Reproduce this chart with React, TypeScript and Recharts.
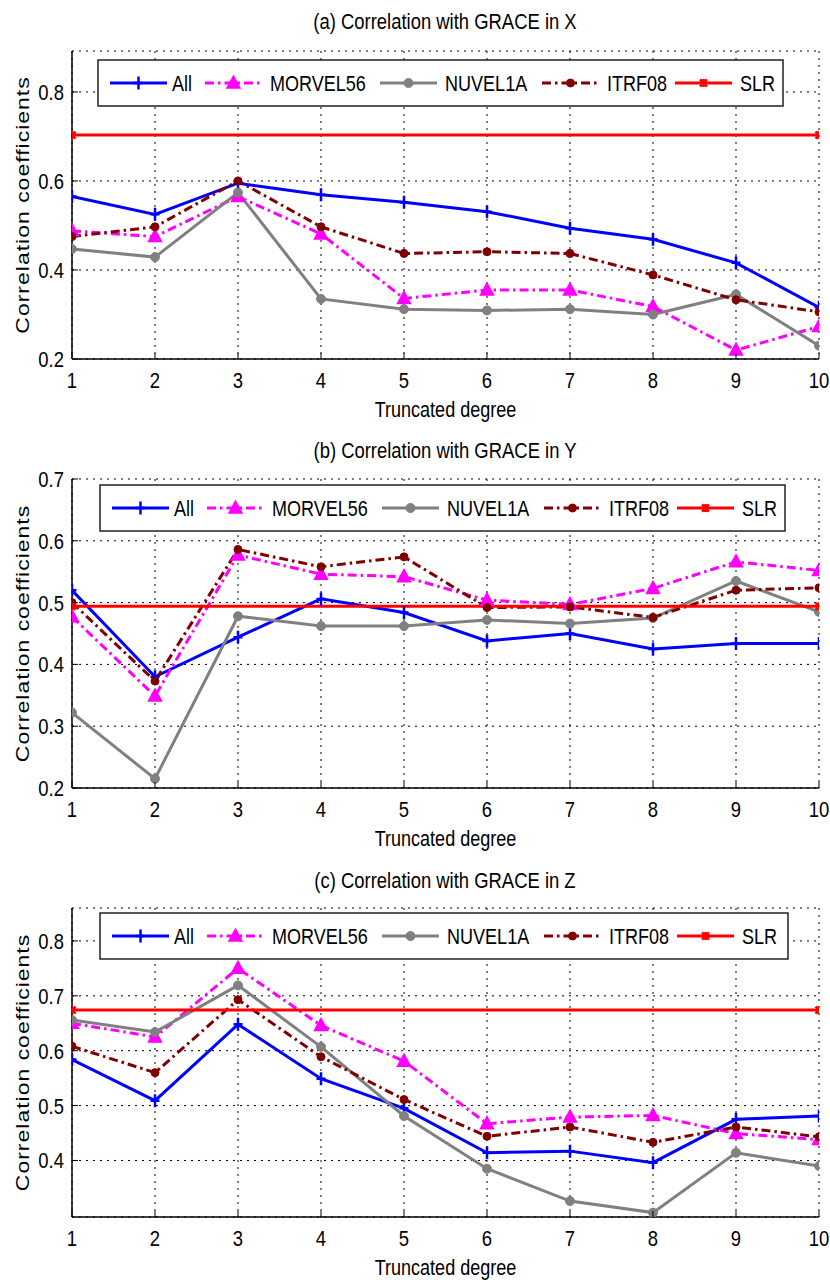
import React from 'react';
import { LineChart, Line, XAxis, YAxis, CartesianGrid, Label } from 'recharts';

const degrees = [1, 2, 3, 4, 5, 6, 7, 8, 9, 10];

// Panel (a) X
const allX = [0.565, 0.525, 0.595, 0.569, 0.552, 0.531, 0.494, 0.469, 0.416, 0.316];
const morvelX = [0.488, 0.475, 0.565, 0.481, 0.336, 0.355, 0.355, 0.318, 0.220, 0.273];
const nuvelX = [0.447, 0.429, 0.574, 0.335, 0.312, 0.309, 0.312, 0.300, 0.345, 0.230];
const itrfX = [0.475, 0.497, 0.600, 0.497, 0.437, 0.441, 0.437, 0.389, 0.333, 0.306];
const slrX = 0.703;

// Panel (b) Y
const allY = [0.520, 0.380, 0.444, 0.506, 0.484, 0.438, 0.450, 0.425, 0.434, 0.434];
const morvelY = [0.477, 0.349, 0.577, 0.546, 0.542, 0.504, 0.497, 0.523, 0.566, 0.552];
const nuvelY = [0.322, 0.215, 0.478, 0.462, 0.462, 0.472, 0.466, 0.475, 0.535, 0.485];
const itrfY = [0.500, 0.373, 0.586, 0.558, 0.574, 0.492, 0.493, 0.476, 0.520, 0.524];
const slrY = 0.494;

// Panel (c) Z
const allZ = [0.584, 0.509, 0.648, 0.549, 0.495, 0.414, 0.417, 0.396, 0.475, 0.481];
const morvelZ = [0.650, 0.625, 0.750, 0.646, 0.581, 0.467, 0.479, 0.482, 0.449, 0.438];
const nuvelZ = [0.656, 0.634, 0.719, 0.607, 0.481, 0.385, 0.326, 0.305, 0.414, 0.390];
const itrfZ = [0.608, 0.560, 0.693, 0.589, 0.511, 0.444, 0.461, 0.433, 0.461, 0.443];
const slrZ = 0.674;

const titles = ['(a) Correlation with GRACE in X', '(b) Correlation with GRACE in Y', '(c) Correlation with GRACE in Z'];
const seriesNames = ['All', 'MORVEL56', 'NUVEL1A', 'ITRF08', 'SLR'];
const ticksA = [0.2, 0.4, 0.6, 0.8];
const ticksB = [0.2, 0.3, 0.4, 0.5, 0.6, 0.7];
const ticksC = [0.4, 0.5, 0.6, 0.7, 0.8];

const FONT = '"Liberation Sans", Arial, sans-serif';
const SX = 0.82; // horizontal squeeze of the original figure's text

const COLORS = { all: '#0000ff', morvel: '#ff00ff', nuvel: '#808080', itrf: '#800000', slr: '#ff0000' };
const DASH = '9 4 2.5 4';

function buildData(all: number[], mor: number[], nuv: number[], itr: number[], slr: number) {
  return degrees.map((d, i) => ({
    deg: d,
    all: all[i],
    morvel: mor[i],
    nuvel: nuv[i],
    itrf: itr[i],
    slr: i === 0 || i === degrees.length - 1 ? slr : null,
  }));
}

const PlusMark = ({ cx, cy, color }: any) => (
  <path d={`M${cx - 4.5},${cy}h9M${cx},${cy - 6.5}v13`} stroke={color} strokeWidth={2.5} fill="none" />
);
const TriMark = ({ cx, cy, color }: any) => (
  <polygon points={`${cx},${cy - 7} ${cx - 6.5},${cy + 5} ${cx + 6.5},${cy + 5}`} fill={color} stroke={color} strokeWidth={1.5} />
);
const CircleMark = ({ cx, cy, color, r }: any) => <circle cx={cx} cy={cy} r={r} fill={color} stroke={color} />;
const XMark = ({ cx, cy, color }: any) => (
  <path d={`M${cx - 3.5},${cy - 3.5}L${cx + 3.5},${cy + 3.5}M${cx + 3.5},${cy - 3.5}L${cx - 3.5},${cy + 3.5}M${cx},${cy - 4}v8`} stroke={color} strokeWidth={2.5} fill="none" />
);

function makeDot(kind: string) {
  return (props: any) => {
    const { cx, cy, index } = props;
    const k = `${kind}-${index}`;
    if (cx == null || cy == null || props.value == null) return <g key={k} />;
    let el: any = null;
    if (kind === 'all') el = <PlusMark cx={cx} cy={cy} color={COLORS.all} />;
    else if (kind === 'morvel') el = <TriMark cx={cx} cy={cy} color={COLORS.morvel} />;
    else if (kind === 'nuvel') el = <CircleMark cx={cx} cy={cy} color={COLORS.nuvel} r={4.5} />;
    else if (kind === 'itrf') el = <CircleMark cx={cx} cy={cy} color={COLORS.itrf} r={4} />;
    else el = <XMark cx={cx} cy={cy} color={COLORS.slr} />;
    return <g key={k}>{el}</g>;
  };
}

const legendSpecs = [
  { key: 'all', name: seriesNames[0], color: COLORS.all, dash: undefined, sx: 12, tx: 74 },
  { key: 'morvel', name: seriesNames[1], color: COLORS.morvel, dash: DASH, sx: 107, tx: 172 },
  { key: 'nuvel', name: seriesNames[2], color: COLORS.nuvel, dash: undefined, sx: 282, tx: 347 },
  { key: 'itrf', name: seriesNames[3], color: COLORS.itrf, dash: DASH, sx: 444, tx: 509 },
  { key: 'slr', name: seriesNames[4], color: COLORS.slr, dash: undefined, sx: 577, tx: 642 },
];

function LegendBox({ left, top, width }: any) {
  const h = 46;
  return (
    <svg width={830} height={top + h + 4} style={{ position: 'absolute', left: 0, top: 0, pointerEvents: 'none' }}>
      <g transform={`translate(${left},${top})`}>
        <rect x={0} y={0} width={width} height={h} fill="#fff" stroke="#222" strokeWidth={1.5} />
        {legendSpecs.map((s) => {
          const Dot = makeDot(s.key);
          return (
            <g key={s.key}>
              <line x1={s.sx} y1={h / 2} x2={s.sx + 57} y2={h / 2} stroke={s.color} strokeWidth={3} strokeDasharray={s.dash} />
              {Dot({ cx: s.sx + 28.5, cy: h / 2, index: 0, value: 1 })}
              <text
                transform={`translate(${s.tx},${h / 2 + 8}) scale(${SX},1)`}
                style={{ fontFamily: FONT, fontSize: 22 }}
                fill="#000"
              >
                {s.name}
              </text>
            </g>
          );
        })}
      </g>
    </svg>
  );
}

const BottomTick = (props: any) => {
  const { x, y, payload } = props;
  return (
    <g>
      <line x1={x} y1={y - 13} x2={x} y2={y - 19} stroke="#000" strokeWidth={1} />
      <text transform={`translate(${x},${y}) scale(${SX},1)`} textAnchor="middle" dy="0.71em" style={{ fontFamily: FONT, fontSize: 22.5 }} fill="#000">
        {payload.value}
      </text>
    </g>
  );
};
const LeftTick = (props: any) => {
  const { x, y, payload } = props;
  return (
    <g>
      <line x1={x + 8} y1={y} x2={x + 14} y2={y} stroke="#000" strokeWidth={1} />
      <text transform={`translate(${x},${y}) scale(${SX},1)`} textAnchor="end" dy="0.355em" style={{ fontFamily: FONT, fontSize: 22.5 }} fill="#000">
        {Number(payload.value).toFixed(1)}
      </text>
    </g>
  );
};
const TopTick = (props: any) => {
  const { x, y } = props;
  return <line x1={x} y1={y + 8} x2={x} y2={y + 14} stroke="#000" strokeWidth={1} />;
};
const RightTick = (props: any) => {
  const { x, y } = props;
  return <line x1={x - 8} y1={y} x2={x - 14} y2={y} stroke="#000" strokeWidth={1} />;
};

function Panel({ data, domain, ticks, legendTop, legendLeft, legendWidth, height, marginTop, marginBottom }: any) {
  return (
    <div style={{ position: 'relative', width: 830, height }}>
      <LineChart width={830} height={height} data={data} margin={{ top: marginTop, right: 11, bottom: marginBottom, left: 0 }}>
        <CartesianGrid stroke="#000" strokeWidth={1} strokeDasharray="2 5" />
        <XAxis
          dataKey="deg"
          type="number"
          domain={[1, 10]}
          ticks={degrees}
          allowDataOverflow
          height={40}
          tickLine={false}
          tickMargin={7}
          axisLine={{ stroke: '#000', strokeWidth: 1.5 }}
          tick={BottomTick}
        >
          <Label
            content={({ viewBox }: any) => (
              <text
                transform={`translate(${viewBox.x + viewBox.width / 2},${viewBox.y + 58}) scale(${SX},1)`}
                textAnchor="middle"
                style={{ fontFamily: FONT, fontSize: 22 }}
                fill="#000"
              >
                Truncated degree
              </text>
            )}
          />
        </XAxis>
        <XAxis
          xAxisId="top"
          orientation="top"
          dataKey="deg"
          type="number"
          domain={[1, 10]}
          ticks={degrees}
          height={0}
          tick={TopTick}
          tickLine={false}
          axisLine={{ stroke: '#000', strokeWidth: 1.5 }}
        />
        <YAxis
          type="number"
          domain={domain}
          ticks={ticks}
          allowDataOverflow
          width={72}
          tickLine={false}
          axisLine={{ stroke: '#000', strokeWidth: 1.5 }}
          tick={LeftTick}
        >
          <Label
            content={({ viewBox }: any) => {
              const cx = viewBox.x + 22;
              const cy = viewBox.y + viewBox.height / 2;
              return (
                <text
                  transform={`translate(${cx},${cy}) rotate(-90) scale(1,${SX})`}
                  textAnchor="middle"
                  dy="0.36em"
                  style={{ fontFamily: FONT, fontSize: 23, letterSpacing: 1 }}
                  fill="#000"
                >
                  Correlation coefficients
                </text>
              );
            }}
          />
        </YAxis>
        <YAxis
          yAxisId="right"
          orientation="right"
          type="number"
          domain={domain}
          ticks={ticks}
          allowDataOverflow
          width={0}
          tick={RightTick}
          tickLine={false}
          axisLine={{ stroke: '#000', strokeWidth: 1.5 }}
        />
        <Line dataKey="all" name="All" stroke={COLORS.all} strokeWidth={3} dot={makeDot('all')} activeDot={false} isAnimationActive={false} />
        <Line dataKey="morvel" name="MORVEL56" stroke={COLORS.morvel} strokeWidth={3} strokeDasharray={DASH} dot={makeDot('morvel')} activeDot={false} isAnimationActive={false} />
        <Line dataKey="nuvel" name="NUVEL1A" stroke={COLORS.nuvel} strokeWidth={3} dot={makeDot('nuvel')} activeDot={false} isAnimationActive={false} />
        <Line dataKey="itrf" name="ITRF08" stroke={COLORS.itrf} strokeWidth={3} strokeDasharray={DASH} dot={makeDot('itrf')} activeDot={false} isAnimationActive={false} />
        <Line dataKey="slr" name="SLR" stroke={COLORS.slr} strokeWidth={3} connectNulls dot={makeDot('slr')} activeDot={false} isAnimationActive={false} />
      </LineChart>
      <LegendBox left={legendLeft} top={legendTop} width={legendWidth} />
    </div>
  );
}

export default function App() {
  const dataA = buildData(allX, morvelX, nuvelX, itrfX, slrX);
  const dataB = buildData(allY, morvelY, nuvelY, itrfY, slrY);
  const dataC = buildData(allZ, morvelZ, nuvelZ, itrfZ, slrZ);
  const titleStyle = { fontFamily: FONT, fontSize: 22.5 };
  const titleYs = [29, 458, 888];
  return (
    <div style={{ position: 'absolute', left: 0, top: 0, width: 830, height: 1283, background: '#fff', overflow: 'hidden' }}>
      <div style={{ position: 'absolute', left: 0, top: 0 }}>
        <Panel data={dataA} domain={[0.2, 0.892]} ticks={ticksA} legendTop={60} legendLeft={98} legendWidth={685} height={428} marginTop={51} marginBottom={29} />
      </div>
      <div style={{ position: 'absolute', left: 0, top: 428 }}>
        <Panel data={dataB} domain={[0.2, 0.7]} ticks={ticksB} legendTop={57} legendLeft={100} legendWidth={685} height={428} marginTop={51} marginBottom={28} />
      </div>
      <div style={{ position: 'absolute', left: 0, top: 856 }}>
        <Panel data={dataC} domain={[0.297, 0.86]} ticks={ticksC} legendTop={57} legendLeft={100} legendWidth={688} height={427} marginTop={52} marginBottom={26} />
      </div>
      <svg width={830} height={1283} style={{ position: 'absolute', left: 0, top: 0, pointerEvents: 'none' }}>
        {titles.map((t, i) => (
          <text key={t} transform={`translate(445,${titleYs[i]}) scale(${SX},1)`} textAnchor="middle" style={titleStyle} fill="#000">
            {t}
          </text>
        ))}
      </svg>
    </div>
  );
}
